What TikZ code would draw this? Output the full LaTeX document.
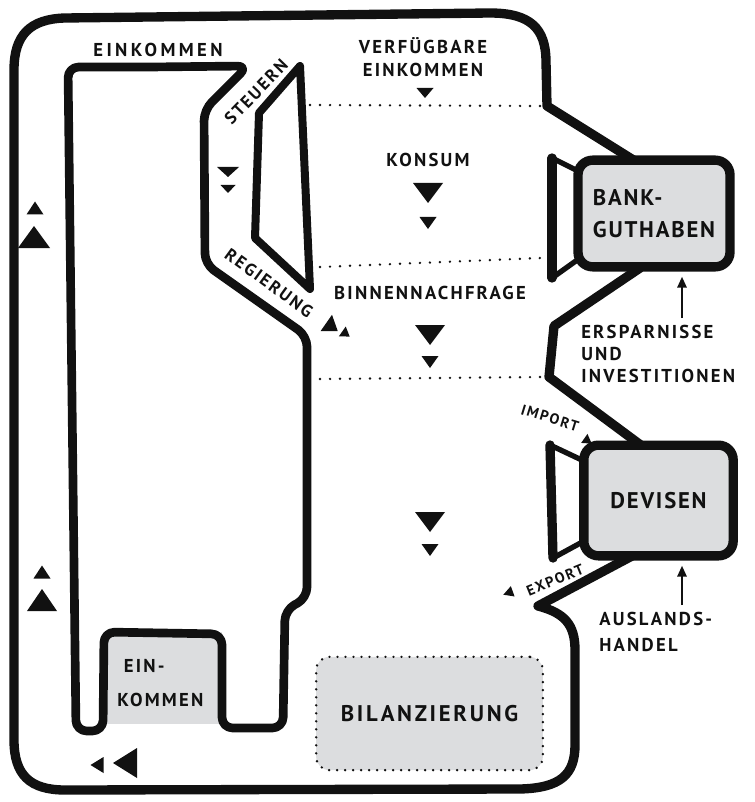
\documentclass[tikz,border=0pt]{standalone}
\usepackage{fontspec}
\setmainfont{PT Sans}[LetterSpace=8]
\usetikzlibrary{arrows.meta}
\definecolor{boxgray}{RGB}{220,221,223}
\definecolor{ink}{RGB}{17,17,17}
\newcommand\flowtri[5]{\fill[ink,shift={(#1,#2)},rotate=#3] (#5/2,0) -- (-#5/2,#4/2) -- (-#5/2,-#4/2) -- cycle;}
\newcommand\wide{\addfontfeature{LetterSpace=12}}
\begin{document}
\begin{tikzpicture}[x=0.75pt,y=-0.75pt,
 thickline/.style={draw=ink,line width=7pt,line join=round,line cap=round},
 innerline/.style={draw=ink,line width=6.5pt,line join=round,line cap=round},
 dotline/.style={draw=ink,line width=2pt,line cap=round,dash pattern=on 0pt off 7.5pt},
 lbl/.style={font=\fontsize{14}{17}\selectfont\bfseries\wide, text=ink, inner sep=0pt},
 mid/.style={font=\fontsize{13}{15}\selectfont\bfseries\wide, text=ink, inner sep=0pt},
 small/.style={font=\fontsize{11}{13}\selectfont\bfseries\wide, text=ink, inner sep=0pt},
 big/.style={font=\fontsize{17}{24}\selectfont\bfseries, text=ink, inner sep=0pt},
 gbox/.style={draw=ink, fill=boxgray, line width=7pt, rounded corners=11pt},
 uparrow/.style={draw=ink, line width=1.2pt, shorten >=4pt, -{Triangle[length=8pt,width=7pt]}},
]
\useasboundingbox (0,0) rectangle (754,802);

% dotted separators
\draw[dotline] (310,105) -- (540,106);
\draw[dotline] (320,267) -- (540,258);
\draw[dotline] (320,379) -- (543,377);

% Bilanzierung box
\node[draw=ink, fill=boxgray, line width=2pt, line cap=round, dash pattern=on 0pt off 6pt,
      rounded corners=10pt, minimum width=170pt, minimum height=85pt] (bil) at (429.5,713.5) {};
\node[big, font=\fontsize{17}{24}\selectfont\bfseries\addfontfeature{LetterSpace=12}] (biltxt) at (bil.center) {BILANZIERUNG};

% gray fill of lower Einkommen box
\fill[boxgray] (103,632) rectangle (222,724);

% outer circuit
\draw[thickline] (635,161) -- (547,106) -- (546,62) .. controls (546,28) and (530,13) .. (490,13)
  -- (65,18) .. controls (30,19) and (14,35) .. (14,70) -- (14,740)
  .. controls (14,775) and (30,790) .. (65,790) -- (520,789)
  .. controls (560,788) and (575,775) .. (575,745) -- (575,650)
  .. controls (575,625) and (565,613) .. (538,606) -- (632,556);
\draw[thickline] (640,268) -- (554,326) -- (549,377) -- (642,446);

% inner circuit
\draw[innerline, rounded corners=8pt] (150,67) -- (248,66) -- (204,110) -- (205,264) -- (307,336)
  -- (307,598) -- (285,610) -- (283,728) -- (222,728) -- (222,634) -- (104,632)
  -- (103,731) -- (76,731) -- (68,67) -- (150,67);

% government
\draw[innerline, line width=6pt] (300,66) -- (259,113) -- (255,238) -- (310,289) -- cycle;

% funnels
\draw[draw=ink, line width=4pt, line join=round] (580,172) -- (552,158);
\draw[draw=ink, line width=4pt, line join=round] (580,258) -- (552,278);
\draw[draw=ink, line width=7pt, line cap=round] (552,158) -- (552,278);
\draw[draw=ink, line width=4pt, line join=round] (586,462) -- (550,445);
\draw[draw=ink, line width=4pt, line join=round] (586,540) -- (553,558);
\draw[draw=ink, line width=7pt, line cap=round] (550,445) -- (553,558);

% boxes
\node[gbox, minimum width=114pt, minimum height=80pt] (bank) at (654,213.5) {};
\node[big, align=left] (banktxt) at (bank.center) {BANK-\\GUTHABEN};
\node[gbox, minimum width=112pt, minimum height=83pt] (dev) at (658.5,500.5) {};
\node[big] (devtxt) at (dev.center) {DEVISEN};

% labels
\node[lbl, font=\fontsize{14}{17}\selectfont\bfseries\addfontfeature{LetterSpace=18}] (einktop) at (158,50) {EINKOMMEN};
\node[lbl, align=center, font=\fontsize{14}{17}\selectfont\bfseries\wide] (verf) at (423,57) {VERFÜGBARE\\EINKOMMEN};
\node[mid, rotate=46] (steuern) at (256,92) {STEUERN};
\node[mid, rotate=-36] (regierung) at (269,283) {REGIERUNG};
\node[lbl] (konsum) at (428,160) {KONSUM};
\node[lbl] (binnen) at (430,293) {BINNENNACHFRAGE};
\node[lbl, anchor=west, align=left, font=\fontsize{14}{16.5}\selectfont\bfseries\wide] (ersp) at (581,354) {ERSPARNISSE\\UND\\INVESTITIONEN};
\node[small, rotate=-17] (import) at (550,418) {IMPORT};
\node[small, rotate=22] (export) at (555,580) {EXPORT};
\node[lbl, anchor=west, align=left, font=\fontsize{14}{19}\selectfont\bfseries\wide] (ausl) at (599,632) {AUSLANDS-\\HANDEL};
\node[lbl, anchor=west, align=left, font=\fontsize{14}{25}\selectfont\bfseries\wide] (einkbox) at (117,683) {\hspace*{5pt}EIN-\\KOMMEN};

% arrows into the boxes
\coordinate (a1) at (682,318);
\draw[uparrow] (a1) -- (a1 |- bank.south);
\coordinate (a2) at (682,605);
\draw[uparrow] (a2) -- (a2 |- dev.south);

% flow triangles
\flowtri{425}{93}{-90}{17}{10}
\flowtri{228}{172}{-90}{22}{10}
\flowtri{228}{189}{-90}{15}{8}
\flowtri{428}{193}{-90}{30}{20}
\flowtri{428}{223}{-90}{17}{12}
\flowtri{430}{335}{-90}{30}{20}
\flowtri{430}{362}{-90}{17}{12}
\flowtri{430}{522}{-90}{30}{20}
\flowtri{430}{550}{-90}{17}{12}
\flowtri{35}{208}{90}{17}{13}
\flowtri{34}{237}{90}{32}{22}
\flowtri{42}{572}{90}{17}{13}
\flowtri{42}{600}{90}{30}{22}
\flowtri{97}{765}{180}{16}{13}
\flowtri{125}{763}{180}{30}{24}
\flowtri{332}{327}{-35}{20}{14}
\flowtri{346}{334}{-35}{12}{9}
\flowtri{588}{441}{-35}{11}{9}
\flowtri{508}{593}{200}{11}{10}
\end{tikzpicture}
\end{document}
